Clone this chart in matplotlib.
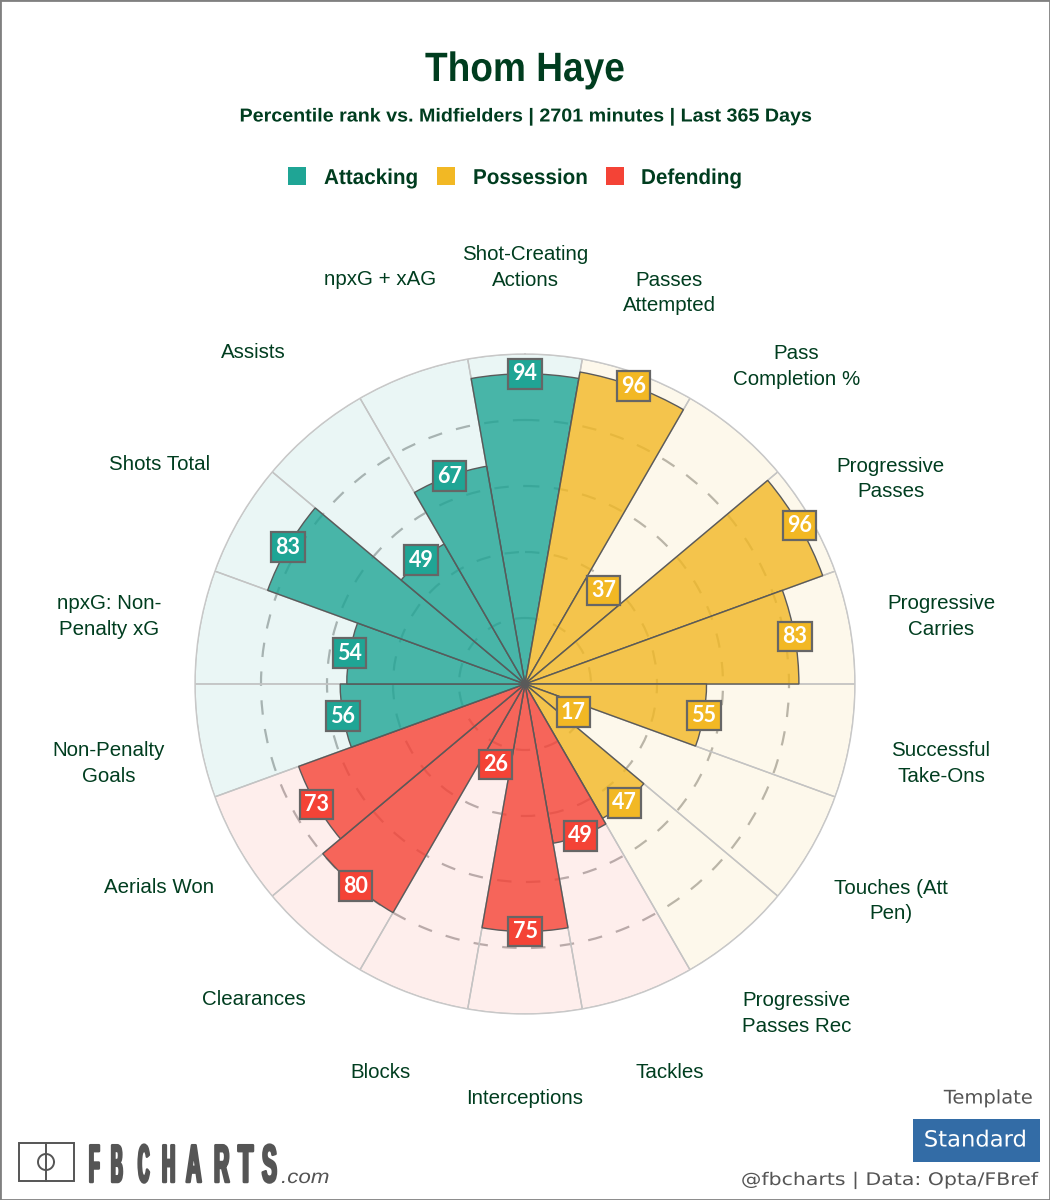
import numpy as np
import matplotlib
matplotlib.use("Agg")
import matplotlib.pyplot as plt
import matplotlib.patheffects as pe
from matplotlib.colors import to_rgba
from matplotlib.path import Path
from matplotlib.patches import Rectangle
from matplotlib.lines import Line2D
from matplotlib.transforms import Affine2D, IdentityTransform

# ---- data ----
categories = ["Shot-Creating\nActions", "Passes\nAttempted", "Pass\nCompletion %", "Progressive\nPasses",
              "Progressive\nCarries", "Successful\nTake-Ons", "Touches (Att\nPen)", "Progressive\nPasses Rec",
              "Tackles", "Interceptions", "Blocks", "Clearances", "Aerials Won",
              "Non-Penalty\nGoals", "npxG: Non-\nPenalty xG", "Shots Total", "Assists", "npxG + xAG"]
values = [94, 96, 37, 96, 83, 55, 17, 47, 49, 75, 26, 80, 73, 56, 54, 83, 49, 67]
groups = ["Attacking", "Possession", "Possession", "Possession", "Possession", "Possession", "Possession",
          "Possession", "Defending", "Defending", "Defending", "Defending", "Defending", "Attacking",
          "Attacking", "Attacking", "Attacking", "Attacking"]
group_names = ["Attacking", "Possession", "Defending"]
group_colors = {"Attacking": "#1fa595", "Possession": "#f2b824", "Defending": "#f44336"}
radial_ticks = [20, 40, 60, 80]

GREEN = "#003d1f"
GREY = "#555555"
W, H = 1050, 1200
fx = lambda x: x / W
fy = lambda y: 1 - y / H


class ScaleX(pe.AbstractPathEffect):
    """Stretch glyphs horizontally about a display x so text width fits."""
    def __init__(self, x0, sx):
        super().__init__()
        self.x0, self.sx = x0, sx

    def draw_path(self, renderer, gc, tpath, affine, rgbFace=None):
        a = affine + Affine2D().translate(-self.x0, 0).scale(self.sx, 1).translate(self.x0, 0)
        renderer.draw_path(gc, tpath, a, rgbFace)


class FitGlyphs(pe.AbstractPathEffect):
    """Fit each glyph of a string into its own x span and scale it vertically about the baseline."""
    def __init__(self, spans, y0, sy, lw):
        super().__init__()
        self.spans, self.y0, self.sy, self.lw = spans, y0, sy, lw

    def draw_path(self, renderer, gc, tpath, affine, rgbFace=None):
        v = affine.transform(tpath.vertices)
        codes = tpath.codes
        starts = list(np.flatnonzero(codes == Path.MOVETO)) + [len(v)]
        contours = sorted(((v[a:b, 0].min(), v[a:b, 0].max(), a, b) for a, b in zip(starts[:-1], starts[1:])))
        glyphs = []
        for c in contours:
            if glyphs and c[0] < glyphs[-1][1]:
                glyphs[-1][1] = max(glyphs[-1][1], c[1])
                glyphs[-1][2].append(c)
            else:
                glyphs.append([c[0], c[1], [c]])
        out = v.copy()
        for (g0, g1, members), (left, right) in zip(glyphs, self.spans):
            for _, _, a, b in members:
                out[a:b, 0] = left + (v[a:b, 0] - g0) * (right - left) / (g1 - g0)
        out[:, 1] = self.y0 + (v[:, 1] - self.y0) * self.sy
        gc2 = renderer.new_gc()
        gc2.copy_properties(gc)
        gc2.set_linewidth(self.lw)
        gc2.set_foreground(rgbFace)
        renderer.draw_path(gc2, Path(out, codes), IdentityTransform(), rgbFace)
        gc2.restore()


fig = plt.figure(figsize=(10.5, 12), dpi=100, facecolor="white")
sans = "Liberation Sans"

# Polar axes: centre (525, 684), radius 330 px
ax = fig.add_axes([fx(195), fy(1014), 660 / W, 660 / H], projection="polar")
ax.set_theta_zero_location("N")
ax.set_theta_direction(-1)
ax.set_ylim(0, 100)
ax.set_facecolor("white")
ax.set_xticks([])
ax.set_yticks(radial_ticks)
ax.set_yticklabels([])
ax.tick_params(length=0)
ax.set_axisbelow(True)
ax.grid(True, axis="y", color="#b5b5b5", linestyle=(0, (6.5, 6.5)), linewidth=1.6)
ax.spines["polar"].set_color("#c8c8c8")
ax.spines["polar"].set_linewidth(1.0)

n = len(categories)
theta = np.deg2rad(np.arange(n) * 360 / n)
width = 2 * np.pi / n
cols = [group_colors[g] for g in groups]

ax.bar(theta, [100] * n, width=width, color=[to_rgba(c, 0.09) for c in cols],
       edgecolor="#c4c4c4", linewidth=1.0, zorder=2)
ax.bar(theta, values, width=width, color=[to_rgba(c, 0.8) for c in cols],
       edgecolor="#5a5a5a", linewidth=1.0, zorder=3)

for t, v, c, cat in zip(theta, values, cols, categories):
    ax.text(t, v, str(v), ha="center", va="center", color="white", fontsize=15.5,
            fontweight="bold", family="Lato", zorder=5,
            bbox=dict(boxstyle="square,pad=0.2", fc=c, ec="#666666", lw=1.6))
    ax.annotate(cat, (t, 128), xytext=(0, -6 if "\n" in cat else 8), textcoords="offset pixels",
                ha="center", va="center", color=GREEN, fontsize=14.8, family=sans,
                linespacing=1.43, annotation_clip=False)

# Title block
fig.text(fx(525), fy(70), "Thom Haye", ha="center", va="center", color=GREEN,
         fontsize=29.5, fontweight="bold", family=sans, path_effects=[ScaleX(525, 0.905)])
fig.text(fx(525), fy(117), "Percentile rank vs. Midfielders | 2701 minutes | Last 365 Days", ha="center",
         va="center", color=GREEN, fontsize=13.5, fontweight="bold", family=sans,
         path_effects=[ScaleX(525, 1.05)])

# Legend
for name, sx, tx in zip(group_names, [288, 437, 606], [324, 473, 641]):
    fig.add_artist(Rectangle((fx(sx), fy(184.5)), 17.5 / W, 17.5 / H, transform=fig.transFigure,
                             fc=group_colors[name], ec="none"))
    fig.text(fx(tx), fy(184), name, ha="left", va="baseline", color=GREEN, fontsize=15.5,
             fontweight="bold", family=sans, path_effects=[ScaleX(tx * 1.0, 0.96)])

# Footer right
fig.text(fx(1033), fy(1098), "Template", ha="right", va="center", color=GREY, fontsize=13.5,
         family="DejaVu Sans", path_effects=[ScaleX(1033, 1.04)])
fig.add_artist(Rectangle((fx(913), fy(1162)), 127 / W, 43 / H, transform=fig.transFigure, fc="#336ca6", ec="none"))
fig.text(fx(975.5), fy(1140.5), "Standard", ha="center", va="center", color="white", fontsize=16,
         family="DejaVu Sans", path_effects=[ScaleX(975.5, 1.02)])
fig.text(fx(1039), fy(1180), "@fbcharts | Data: Opta/FBref", ha="right", va="center", color=GREY,
         fontsize=12.5, family="DejaVu Sans", path_effects=[ScaleX(1039, 1.18)])

# Logo
fig.add_artist(Rectangle((fx(19), fy(1181)), 55 / W, 38 / H, transform=fig.transFigure, fc="none", ec=GREY, lw=1.4))
fig.add_artist(Line2D([fx(46), fx(46)], [fy(1143), fy(1181)], transform=fig.transFigure, color=GREY, lw=1.4))
fig.add_artist(Line2D(*zip(*[(fx(46 + 8 * np.cos(a)), fy(1162 + 8 * np.sin(a))) for a in np.linspace(0, 2 * np.pi, 60)]),
                      transform=fig.transFigure, color=GREY, lw=1.4))
logo_spans = [(89, 99), (111, 122), (138, 149), (162, 174), (186, 201), (214, 229), (238, 253), (262, 276)]
fig.text(fx(88), fy(1182), "FBCHARTS", ha="left", va="baseline", color=GREY, fontsize=14,
         fontweight="bold", family=sans,
         path_effects=[FitGlyphs(logo_spans, H - 1182, 2.75, 1.8)])
fig.text(fx(281), fy(1183), ".com", ha="left", va="baseline", color=GREY, fontsize=14,
         style="italic", family=sans, path_effects=[ScaleX(281, 1.15)])

# Frame
fig.add_artist(Rectangle((0, 0), 1, 1, transform=fig.transFigure, fc="none", ec="#808080", lw=2))

fig.savefig("out.png", dpi=100, facecolor="white")
